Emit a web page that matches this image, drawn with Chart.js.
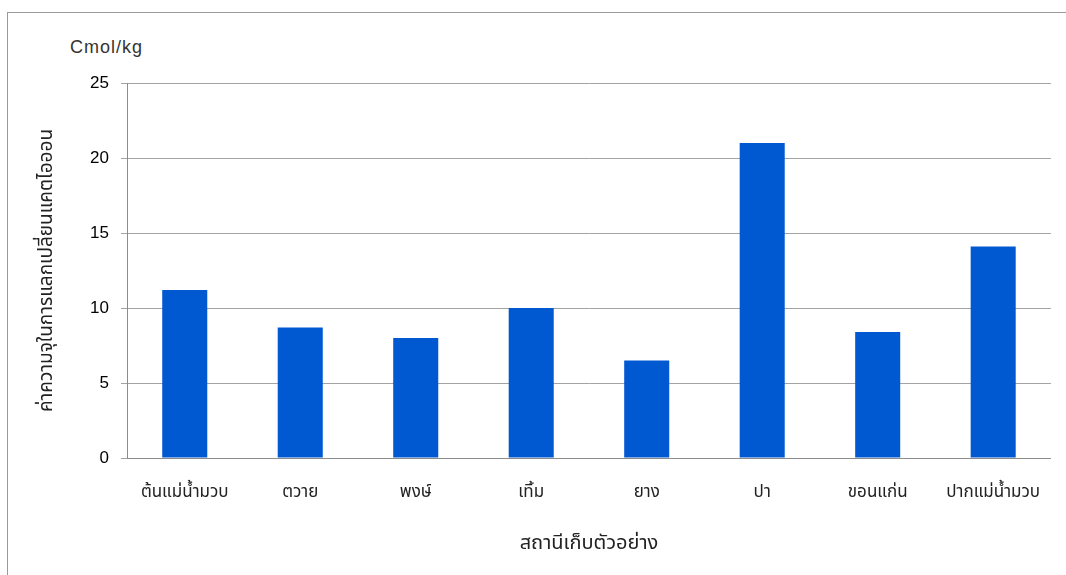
<!DOCTYPE html>
<html>
<head>
<meta charset="utf-8">
<script src="https://cdn.jsdelivr.net/npm/chart.js@4.4.0/dist/chart.umd.min.js"></script>
<style>
  html, body { margin: 0; padding: 0; background: #fff; overflow: hidden; }
  #wrap { position: relative; width: 1066px; height: 575px; }
  #frame { position: absolute; left: 7px; top: 12px; width: 1200px; height: 700px; border: 1px solid #9a9a9a; }
  #unit { position: absolute; left: 70px; top: 37px; font: 18px "Liberation Sans", Arial, sans-serif; letter-spacing: 1px; color: #333; }
  canvas { position: absolute; left: 0; top: 0; }
</style>
</head>
<body>
<div id="wrap">
  <div id="frame"></div>
  <div id="unit">Cmol/kg</div>
  <canvas id="myChart" width="1066" height="575"></canvas>
</div>
<script>
// Sampling stations and cation exchange capacity values
const stations = ["ต้นแม่น้ำมวบ", "ตวาย", "พงษ์", "เทิ้ม", "ยาง", "ปา", "ขอนแก่น", "ปากแม่น้ำมวบ"];
const cecValues = [11.2, 8.7, 8.0, 10.0, 6.5, 21.0, 8.4, 14.1];
const yTicks = [0, 5, 10, 15, 20, 25];

const thaiFont = '"Noto Sans Thai", Tahoma, "DejaVu Sans", sans-serif';

const ctx = document.getElementById("myChart").getContext("2d");

const data = {
  labels: stations,
  datasets: [
    {
      label: "",
      data: cecValues,
      backgroundColor: "#0059d1",
      borderWidth: 0,
      barPercentage: 0.39,
      categoryPercentage: 1.0,
    },
  ],
};

const config = {
  type: "bar",
  data: data,
  options: {
    responsive: false,
    animation: false,
    layout: {
      padding: { top: 83, right: 14, bottom: 0, left: 0 },
    },
    scales: {
      y: {
        min: yTicks[0],
        max: yTicks[yTicks.length - 1],
        afterBuildTicks: (scale) => {
          scale.ticks = yTicks.map((v) => ({ value: v }));
        },
        afterFit: (scale) => {
          scale.width = 127; // push plot area to the right
        },
        ticks: {
          color: "#000",
          padding: 12,
          font: { family: '"Liberation Sans", Arial, sans-serif', size: 17 },
        },
        grid: {
          color: "#a3a3a3",
          tickLength: 6,
        },
        border: { color: "#8c8c8c" },
        title: {
          display: true,
          text: "ค่าความจุในการแลกเปลี่ยนแคตไอออน",
          color: "#222",
          font: { family: thaiFont, size: 19 },
          padding: { top: 37, bottom: 0 },
        },
      },
      x: {
        afterFit: (scale) => {
          scale.height = 117;
        },
        grid: { display: false, drawTicks: false },
        border: { color: "#8c8c8c" },
        ticks: {
          color: "#222",
          padding: 25,
          maxRotation: 0,
          font: { family: thaiFont, size: 17 },
        },
        title: {
          display: true,
          text: "สถานีเก็บตัวอย่าง",
          color: "#222",
          font: { family: thaiFont, size: 20 },
          padding: { top: 0, bottom: 18 },
        },
      },
    },
    plugins: {
      legend: { display: false },
      tooltip: { enabled: false },
    },
  },
};

const myChart = new Chart(ctx, config);
</script>
</body>
</html>
